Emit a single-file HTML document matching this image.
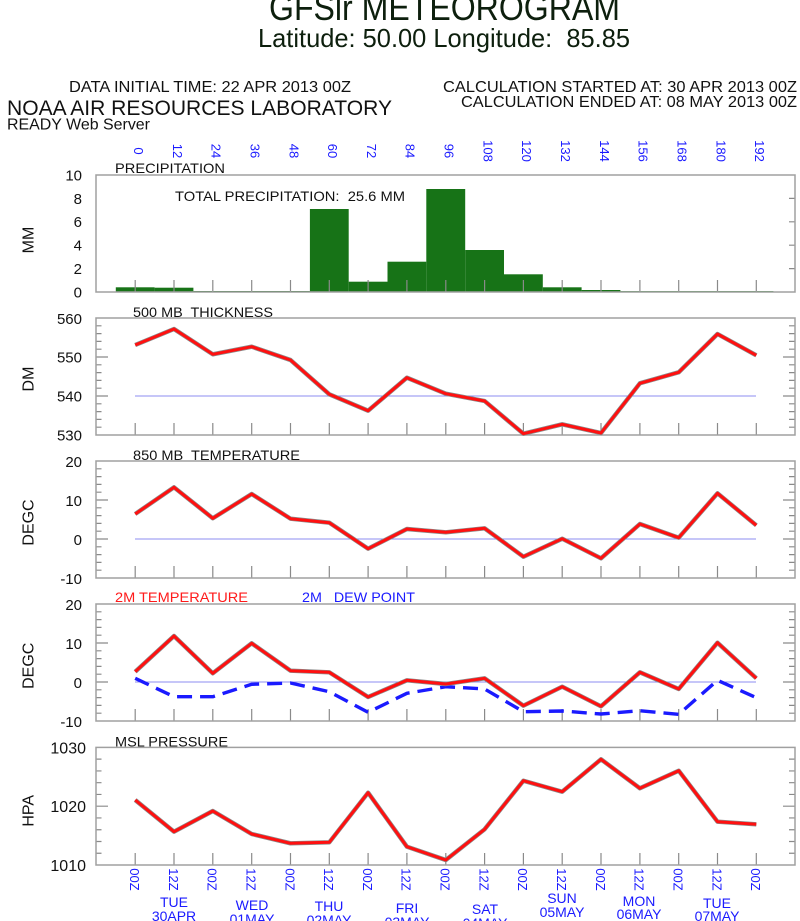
<!DOCTYPE html>
<html>
<head>
<meta charset="utf-8">
<style>
html,body{margin:0;padding:0;background:#fff;}
svg{display:block;font-family:"Liberation Sans",Arial,sans-serif;}
.pre{white-space:pre;}
</style>
</head>
<body>
<svg width="800" height="921" viewBox="0 0 800 921" xmlns="http://www.w3.org/2000/svg" xmlns:xlink="http://www.w3.org/1999/xlink">
<defs>
  <path id="bt" d="M135.2 0v-12M174 0v-12M212.8 0v-12M251.7 0v-12M290.5 0v-12M329.3 0v-12M368.1 0v-12M406.9 0v-12M445.8 0v-12M484.6 0v-12M523.4 0v-12M562.2 0v-12M601 0v-12M639.9 0v-12M678.7 0v-12M717.5 0v-12M756.3 0v-12"/>
  <path id="lt15" d="M96 -7.8h5.5M96 -15.6h5.5M96 -23.4h5.5M96 -31.2h5.5M96 -39h12M96 -46.8h5.5M96 -54.6h5.5M96 -62.4h5.5M96 -70.2h5.5M96 -78h12M96 -85.8h5.5M96 -93.6h5.5M96 -101.4h5.5M96 -109.2h5.5
  M789 -7.8h6M789 -15.6h6M789 -23.4h6M789 -31.2h6M783 -39h12M789 -46.8h6M789 -54.6h6M789 -62.4h6M789 -70.2h6M783 -78h12M789 -85.8h6M789 -93.6h6M789 -101.4h6M789 -109.2h6"/>
  <path id="lt10" d="M96 -11.76h5.5M96 -23.52h5.5M96 -35.28h5.5M96 -47.04h5.5M96 -58.8h12M96 -70.56h5.5M96 -82.32h5.5M96 -94.08h5.5M96 -105.84h5.5
  M789 -11.76h6M789 -23.52h6M789 -35.28h6M789 -47.04h6M783 -58.8h12M789 -70.56h6M789 -82.32h6M789 -94.08h6M789 -105.84h6"/>
</defs>

<!-- Header -->
<text x="269" y="20" font-size="36" textLength="351" lengthAdjust="spacingAndGlyphs" fill="#0d1f0d">GFSlr METEOROGRAM</text>
<text x="258" y="47" font-size="26" textLength="372" lengthAdjust="spacingAndGlyphs" fill="#0d1f0d" class="pre">Latitude: 50.00 Longitude:  85.85</text>
<text x="69" y="92" font-size="16" textLength="282" lengthAdjust="spacingAndGlyphs" fill="#111">DATA INITIAL TIME: 22 APR 2013 00Z</text>
<text x="7" y="115" font-size="21" textLength="385" lengthAdjust="spacingAndGlyphs" fill="#111">NOAA AIR RESOURCES LABORATORY</text>
<text x="7" y="129.5" font-size="16" textLength="143" lengthAdjust="spacingAndGlyphs" fill="#111">READY Web Server</text>
<text x="443" y="92" font-size="16" textLength="354" lengthAdjust="spacingAndGlyphs" fill="#111">CALCULATION STARTED AT: 30 APR 2013 00Z</text>
<text x="461" y="107" font-size="16" textLength="336" lengthAdjust="spacingAndGlyphs" fill="#111">CALCULATION ENDED AT: 08 MAY 2013 00Z</text>

<!-- Top time labels -->
<g font-size="13" fill="#1a1aff" text-anchor="middle">
  <text transform="translate(134,151) rotate(90)">0</text>
  <text transform="translate(172.8,151) rotate(90)">12</text>
  <text transform="translate(211.6,151) rotate(90)">24</text>
  <text transform="translate(250.5,151) rotate(90)">36</text>
  <text transform="translate(289.3,151) rotate(90)">48</text>
  <text transform="translate(328.1,151) rotate(90)">60</text>
  <text transform="translate(366.9,151) rotate(90)">72</text>
  <text transform="translate(405.7,151) rotate(90)">84</text>
  <text transform="translate(444.6,151) rotate(90)">96</text>
  <text transform="translate(483.4,151) rotate(90)">108</text>
  <text transform="translate(522.2,151) rotate(90)">120</text>
  <text transform="translate(561,151) rotate(90)">132</text>
  <text transform="translate(599.8,151) rotate(90)">144</text>
  <text transform="translate(638.7,151) rotate(90)">156</text>
  <text transform="translate(677.5,151) rotate(90)">168</text>
  <text transform="translate(716.3,151) rotate(90)">180</text>
  <text transform="translate(755.1,151) rotate(90)">192</text>
</g>

<!-- ===== Panel 1: Precipitation ===== -->
<g fill="#177317">
  <rect x="115.8" y="287.3" width="38.8" height="4.7"/>
  <rect x="154.6" y="287.7" width="38.8" height="4.3"/>
  <rect x="193.4" y="291" width="116.5" height="1"/>
  <rect x="309.9" y="209" width="38.8" height="83"/>
  <rect x="348.7" y="281.7" width="38.8" height="10.3"/>
  <rect x="387.5" y="261.7" width="38.8" height="30.3"/>
  <rect x="426.3" y="189" width="38.9" height="103"/>
  <rect x="465.2" y="250" width="38.8" height="42"/>
  <rect x="504" y="274.3" width="38.8" height="17.7"/>
  <rect x="542.8" y="287.3" width="38.8" height="4.7"/>
  <rect x="581.6" y="290" width="38.8" height="2"/>
  <rect x="620.4" y="291" width="153" height="1" fill="#4a9a4a"/>
</g>
<g fill="none" stroke="#8a8a8a" stroke-width="1.2">
  <use href="#bt" xlink:href="#bt" y="292"/>
  <path d="M789 268.6h6M789 245.2h6M789 221.8h6M789 198.4h6"/>
</g>
<rect x="96" y="175" width="699" height="117" fill="none" stroke="#a0a0a0" stroke-width="1.5"/>
<text x="115" y="173" font-size="14" textLength="110" lengthAdjust="spacingAndGlyphs" fill="#111">PRECIPITATION</text>
<text x="175" y="201" font-size="14" textLength="230" lengthAdjust="spacingAndGlyphs" fill="#111" class="pre">TOTAL PRECIPITATION:  25.6 MM</text>
<g font-size="15" fill="#111" text-anchor="end">
  <text x="82" y="180.4">10</text>
  <text x="82" y="203.8">8</text>
  <text x="82" y="227.2">6</text>
  <text x="82" y="250.6">4</text>
  <text x="82" y="274">2</text>
  <text x="82" y="297.4">0</text>
</g>
<text transform="translate(33.3,240) rotate(-90)" font-size="16" text-anchor="middle" fill="#111">MM</text>

<!-- ===== Panel 2: 500 MB thickness ===== -->
<line x1="135" y1="396" x2="756" y2="396" stroke="#8c8cf0" stroke-width="1"/>
<g fill="none" stroke="#8a8a8a" stroke-width="1.2">
  <use href="#bt" xlink:href="#bt" y="435"/>
  <use href="#lt15" xlink:href="#lt15" y="435"/>
</g>
<rect x="96" y="318" width="699" height="117" fill="none" stroke="#a0a0a0" stroke-width="1.5"/>
<polyline points="135.2,345 174,329 212.8,354.3 251.7,346.7 290.5,360 329.3,394.3 368.1,410.7 406.9,377.7 445.8,393.7 484.6,401 523.4,433.7 562.2,424.3 601,433 639.9,383.3 678.7,372.3 717.5,334 756.3,355.3" fill="none" stroke="#8a8a8a" stroke-width="4.4" stroke-linejoin="round"/>
<polyline points="135.2,345 174,329 212.8,354.3 251.7,346.7 290.5,360 329.3,394.3 368.1,410.7 406.9,377.7 445.8,393.7 484.6,401 523.4,433.7 562.2,424.3 601,433 639.9,383.3 678.7,372.3 717.5,334 756.3,355.3" fill="none" stroke="#ff1010" stroke-width="3" stroke-linejoin="round"/>
<text x="133" y="317" font-size="14" textLength="140" lengthAdjust="spacingAndGlyphs" fill="#111" class="pre">500 MB  THICKNESS</text>
<g font-size="15" fill="#111" text-anchor="end">
  <text x="82" y="323.8">560</text>
  <text x="82" y="362.5">550</text>
  <text x="82" y="401.3">540</text>
  <text x="82" y="440.3">530</text>
</g>
<text transform="translate(33.3,379) rotate(-90)" font-size="16" text-anchor="middle" fill="#111">DM</text>

<!-- ===== Panel 3: 850 MB temperature ===== -->
<line x1="135" y1="539" x2="756" y2="539" stroke="#8c8cf0" stroke-width="1"/>
<g fill="none" stroke="#8a8a8a" stroke-width="1.2">
  <use href="#bt" xlink:href="#bt" y="578"/>
  <use href="#lt15" xlink:href="#lt15" y="578"/>
</g>
<rect x="96" y="461" width="699" height="117" fill="none" stroke="#a0a0a0" stroke-width="1.5"/>
<polyline points="135.2,514 174,487.3 212.8,518.3 251.7,494 290.5,518.7 329.3,522.7 368.1,548.7 406.9,529 445.8,532.3 484.6,528.3 523.4,556.7 562.2,538.7 601,558.3 639.9,524 678.7,537.7 717.5,493.3 756.3,525.3" fill="none" stroke="#8a8a8a" stroke-width="4.4" stroke-linejoin="round"/>
<polyline points="135.2,514 174,487.3 212.8,518.3 251.7,494 290.5,518.7 329.3,522.7 368.1,548.7 406.9,529 445.8,532.3 484.6,528.3 523.4,556.7 562.2,538.7 601,558.3 639.9,524 678.7,537.7 717.5,493.3 756.3,525.3" fill="none" stroke="#ff1010" stroke-width="3" stroke-linejoin="round"/>
<text x="133" y="460" font-size="14" textLength="167" lengthAdjust="spacingAndGlyphs" fill="#111" class="pre">850 MB  TEMPERATURE</text>
<g font-size="15" fill="#111" text-anchor="end">
  <text x="82" y="467">20</text>
  <text x="82" y="506">10</text>
  <text x="82" y="545">0</text>
  <text x="82" y="584">-10</text>
</g>
<text transform="translate(33.3,522.5) rotate(-90)" font-size="16" text-anchor="middle" fill="#111">DEGC</text>

<!-- ===== Panel 4: 2M temperature / dew point ===== -->
<line x1="135" y1="682" x2="756" y2="682" stroke="#8c8cf0" stroke-width="1"/>
<g fill="none" stroke="#8a8a8a" stroke-width="1.2">
  <use href="#bt" xlink:href="#bt" y="721"/>
  <use href="#lt15" xlink:href="#lt15" y="721"/>
</g>
<rect x="96" y="604" width="699" height="117" fill="none" stroke="#a0a0a0" stroke-width="1.5"/>
<polyline points="135.2,678.3 174,696.7 212.8,696.7 251.7,684.3 290.5,683 329.3,691.7 368.1,712.3 406.9,693.3 445.8,686.7 484.6,689 523.4,711.7 562.2,711 601,714 639.9,710.7 678.7,714.3 717.5,680.3 756.3,697.7" fill="none" stroke="#1a1aff" stroke-width="3.4" stroke-dasharray="15 8" stroke-linejoin="round"/>
<polyline points="135.2,671.7 174,636 212.8,673.3 251.7,643.3 290.5,670.7 329.3,672.3 368.1,697 406.9,680.3 445.8,684 484.6,678.3 523.4,705.7 562.2,686.7 601,706.3 639.9,672.3 678.7,689 717.5,642.7 756.3,678.3" fill="none" stroke="#8a8a8a" stroke-width="4.4" stroke-linejoin="round"/>
<polyline points="135.2,671.7 174,636 212.8,673.3 251.7,643.3 290.5,670.7 329.3,672.3 368.1,697 406.9,680.3 445.8,684 484.6,678.3 523.4,705.7 562.2,686.7 601,706.3 639.9,672.3 678.7,689 717.5,642.7 756.3,678.3" fill="none" stroke="#ff1010" stroke-width="3" stroke-linejoin="round"/>
<text x="115" y="602" font-size="14" textLength="133" lengthAdjust="spacingAndGlyphs" fill="#ff1a1a">2M TEMPERATURE</text>
<text x="302" y="602" font-size="14" textLength="113" lengthAdjust="spacingAndGlyphs" fill="#1a1aff" class="pre">2M   DEW POINT</text>
<g font-size="15" fill="#111" text-anchor="end">
  <text x="82" y="610">20</text>
  <text x="82" y="649">10</text>
  <text x="82" y="688">0</text>
  <text x="82" y="727">-10</text>
</g>
<text transform="translate(33.3,665.8) rotate(-90)" font-size="16" text-anchor="middle" fill="#111">DEGC</text>

<!-- ===== Panel 5: MSL pressure ===== -->
<g fill="none" stroke="#8a8a8a" stroke-width="1.2">
  <use href="#bt" xlink:href="#bt" y="865"/>
  <use href="#lt10" xlink:href="#lt10" y="865"/>
</g>
<rect x="96" y="747.4" width="699" height="117.6" fill="none" stroke="#a0a0a0" stroke-width="1.5"/>
<polyline points="135.2,800 174,831.7 212.8,811 251.7,834 290.5,843.3 329.3,842.3 368.1,792.7 406.9,846.7 445.8,860 484.6,829.3 523.4,780.7 562.2,791.7 601,759.3 639.9,788.3 678.7,770.7 717.5,821.7 756.3,824.3" fill="none" stroke="#8a8a8a" stroke-width="4.4" stroke-linejoin="round"/>
<polyline points="135.2,800 174,831.7 212.8,811 251.7,834 290.5,843.3 329.3,842.3 368.1,792.7 406.9,846.7 445.8,860 484.6,829.3 523.4,780.7 562.2,791.7 601,759.3 639.9,788.3 678.7,770.7 717.5,821.7 756.3,824.3" fill="none" stroke="#ff1010" stroke-width="3" stroke-linejoin="round"/>
<text x="115" y="746.7" font-size="14" textLength="113" lengthAdjust="spacingAndGlyphs" fill="#111">MSL PRESSURE</text>
<g font-size="16" fill="#111" text-anchor="end">
  <text x="86" y="753.3">1030</text>
  <text x="86" y="812">1020</text>
  <text x="86" y="871">1010</text>
</g>
<text transform="translate(33.3,810.8) rotate(-90)" font-size="16" text-anchor="middle" fill="#111">HPA</text>

<!-- Bottom hour labels -->
<g font-size="13" fill="#1a1aff" text-anchor="middle">
  <text transform="translate(130,879.5) rotate(90)">00Z</text>
  <text transform="translate(168.8,879.5) rotate(90)">12Z</text>
  <text transform="translate(207.6,879.5) rotate(90)">00Z</text>
  <text transform="translate(246.5,879.5) rotate(90)">12Z</text>
  <text transform="translate(285.3,879.5) rotate(90)">00Z</text>
  <text transform="translate(324.1,879.5) rotate(90)">12Z</text>
  <text transform="translate(362.9,879.5) rotate(90)">00Z</text>
  <text transform="translate(401.7,879.5) rotate(90)">12Z</text>
  <text transform="translate(440.6,879.5) rotate(90)">00Z</text>
  <text transform="translate(479.4,879.5) rotate(90)">12Z</text>
  <text transform="translate(518.2,879.5) rotate(90)">00Z</text>
  <text transform="translate(557,879.5) rotate(90)">12Z</text>
  <text transform="translate(595.8,879.5) rotate(90)">00Z</text>
  <text transform="translate(634.7,879.5) rotate(90)">12Z</text>
  <text transform="translate(673.5,879.5) rotate(90)">00Z</text>
  <text transform="translate(712.3,879.5) rotate(90)">12Z</text>
  <text transform="translate(751.1,879.5) rotate(90)">00Z</text>
</g>

<!-- Day labels -->
<g font-size="14" fill="#1a1aff" text-anchor="middle">
  <text x="174" y="907">TUE</text><text x="174" y="921">30APR</text>
  <text x="252" y="910">WED</text><text x="252" y="924">01MAY</text>
  <text x="329" y="911">THU</text><text x="329" y="925">02MAY</text>
  <text x="407" y="913">FRI</text><text x="407" y="927">03MAY</text>
  <text x="485" y="914">SAT</text><text x="485" y="928">04MAY</text>
  <text x="562" y="903">SUN</text><text x="562" y="917">05MAY</text>
  <text x="639" y="906">MON</text><text x="639" y="919">06MAY</text>
  <text x="717" y="908">TUE</text><text x="717" y="921">07MAY</text>
</g>
</svg>
</body>
</html>
